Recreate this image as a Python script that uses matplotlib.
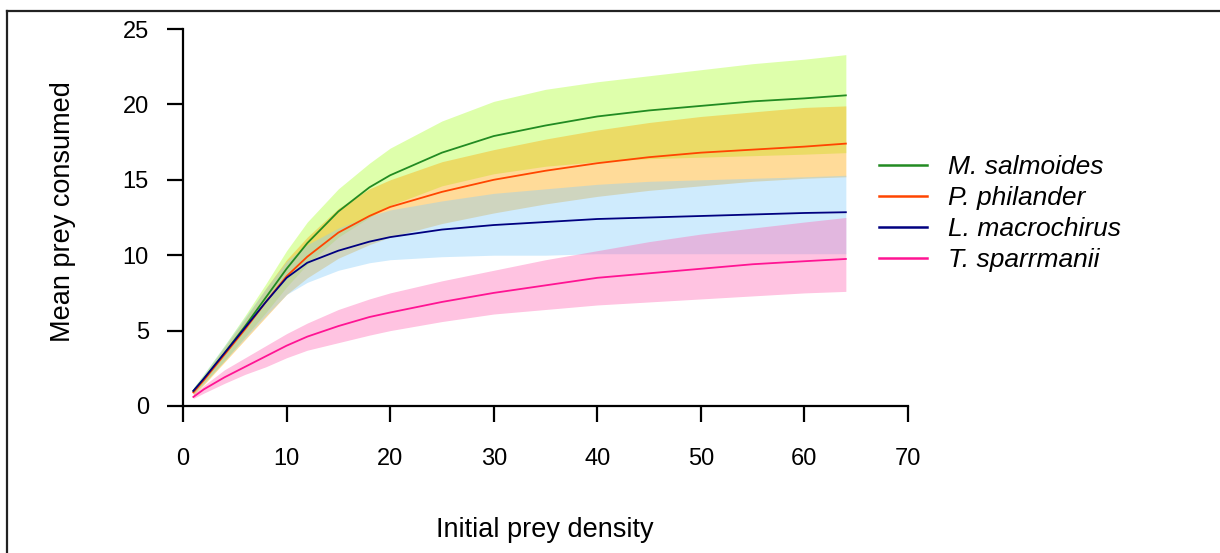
import numpy as np
import matplotlib
matplotlib.use("Agg")
import matplotlib.pyplot as plt
from matplotlib.lines import Line2D

plt.rcParams['font.family'] = ['Liberation Sans', 'DejaVu Sans']

# prey densities where the fitted curves were evaluated
density = [1, 2, 4, 6, 8, 10, 12, 15, 18, 20, 25, 30, 35, 40, 45, 50, 55, 60, 64]

species = ["M. salmoides", "P. philander", "L. macrochirus", "T. sparrmanii"]

salmoides_mean = [1.0, 1.8, 3.5, 5.3, 7.2, 9.1, 10.8, 12.9, 14.5, 15.3, 16.8, 17.9, 18.6, 19.2, 19.6, 19.9, 20.2, 20.4, 20.6]
salmoides_lo = [0.8, 1.5, 3.0, 4.6, 6.2, 7.9, 9.4, 11.2, 12.5, 13.3, 14.6, 15.4, 15.9, 16.2, 16.4, 16.5, 16.6, 16.7, 16.8]
salmoides_hi = [1.2, 2.1, 4.0, 6.0, 8.1, 10.3, 12.2, 14.4, 16.1, 17.1, 18.9, 20.2, 21.0, 21.5, 21.9, 22.3, 22.7, 23.0, 23.3]

philander_mean = [0.9, 1.7, 3.4, 5.1, 6.9, 8.6, 9.9, 11.5, 12.6, 13.2, 14.2, 15.0, 15.6, 16.1, 16.5, 16.8, 17.0, 17.2, 17.4]
philander_lo = [0.7, 1.4, 2.9, 4.4, 5.9, 7.4, 8.5, 9.8, 10.7, 11.2, 12.1, 12.8, 13.4, 13.9, 14.3, 14.6, 14.9, 15.1, 15.2]
philander_hi = [1.1, 2.0, 3.9, 5.8, 7.8, 9.7, 11.2, 13.1, 14.4, 15.0, 16.2, 17.0, 17.7, 18.3, 18.8, 19.2, 19.5, 19.8, 19.9]

macrochirus_mean = [1.0, 1.8, 3.5, 5.2, 6.9, 8.5, 9.5, 10.3, 10.9, 11.2, 11.7, 12.0, 12.2, 12.4, 12.5, 12.6, 12.7, 12.8, 12.85]
macrochirus_lo = [0.8, 1.5, 3.0, 4.5, 6.0, 7.4, 8.2, 9.0, 9.5, 9.7, 9.9, 10.0, 10.0, 10.1, 10.1, 10.1, 10.1, 10.1, 10.1]
macrochirus_hi = [1.2, 2.1, 4.0, 5.9, 7.8, 9.6, 10.7, 11.8, 12.6, 13.0, 13.6, 14.1, 14.4, 14.7, 14.9, 15.0, 15.1, 15.2, 15.3]

sparrmanii_mean = [0.6, 1.1, 1.9, 2.6, 3.3, 4.0, 4.6, 5.3, 5.9, 6.2, 6.9, 7.5, 8.0, 8.5, 8.8, 9.1, 9.4, 9.6, 9.75]
sparrmanii_lo = [0.5, 0.85, 1.5, 2.1, 2.6, 3.2, 3.7, 4.2, 4.7, 5.0, 5.6, 6.1, 6.4, 6.7, 6.9, 7.1, 7.3, 7.5, 7.6]
sparrmanii_hi = [0.8, 1.35, 2.4, 3.2, 4.0, 4.8, 5.5, 6.4, 7.1, 7.5, 8.3, 9.0, 9.7, 10.3, 10.9, 11.4, 11.8, 12.2, 12.5]

means = [salmoides_mean, philander_mean, macrochirus_mean, sparrmanii_mean]
lows = [salmoides_lo, philander_lo, macrochirus_lo, sparrmanii_lo]
highs = [salmoides_hi, philander_hi, macrochirus_hi, sparrmanii_hi]

line_cols = ['#228B22', '#FF4500', '#000080', '#FF1493']
band_cols = ['#ADFF2F', '#FFA500', '#87CEFA', '#FF69B4']

fig = plt.figure(figsize=(12.2, 5.53), dpi=100)
ax = fig.add_axes([183 / 1220, 1 - 406 / 553, 725 / 1220, 377 / 553])

for lo, hi, bc in zip(lows, highs, band_cols):
    ax.fill_between(density, lo, hi, color=bc, alpha=0.4, lw=0)
for m, lc in zip(means, line_cols):
    ax.plot(density, m, color=lc, lw=1.3)

ax.set_xlim(0, 70)
ax.set_ylim(0, 25)
ax.set_xticks(np.arange(0, 71, 10))
ax.set_yticks(np.arange(0, 26, 5))
for s in ['top', 'right']:
    ax.spines[s].set_visible(False)
for s in ['left', 'bottom']:
    ax.spines[s].set_linewidth(1.6)
ax.tick_params(axis='both', direction='out', length=11.5, width=1.6, labelsize=17)
ax.tick_params(axis='x', pad=18.5)
ax.tick_params(axis='y', pad=13)
ax.patch.set_visible(False)

fig.text(545 / 1220, 1 - 530 / 553, "Initial prey density", fontsize=19.5,
         ha='center', va='center')
fig.text(63 / 1220, 1 - 212 / 553, "Mean prey consumed", fontsize=19.5,
         ha='center', va='center', rotation=90)

handles = [Line2D([], [], color=c, lw=1.8) for c in line_cols]
leg = ax.legend(handles, species, loc='center left',
                bbox_to_anchor=(868 / 1220, 1 - 213.5 / 553),
                bbox_transform=fig.transFigure, frameon=False,
                prop={'size': 19, 'style': 'italic'},
                handlelength=1.85, handletextpad=0.8, labelspacing=0.27,
                borderaxespad=0)

# frame around the figure
fig.add_artist(Line2D([7 / 1220, 7 / 1220], [0, 1 - 11 / 553],
                      transform=fig.transFigure, color='#222222', lw=1.6))
fig.add_artist(Line2D([7 / 1220, 1], [1 - 11 / 553, 1 - 11 / 553],
                      transform=fig.transFigure, color='#222222', lw=1.6))

fig.savefig('out.png', dpi=100)
